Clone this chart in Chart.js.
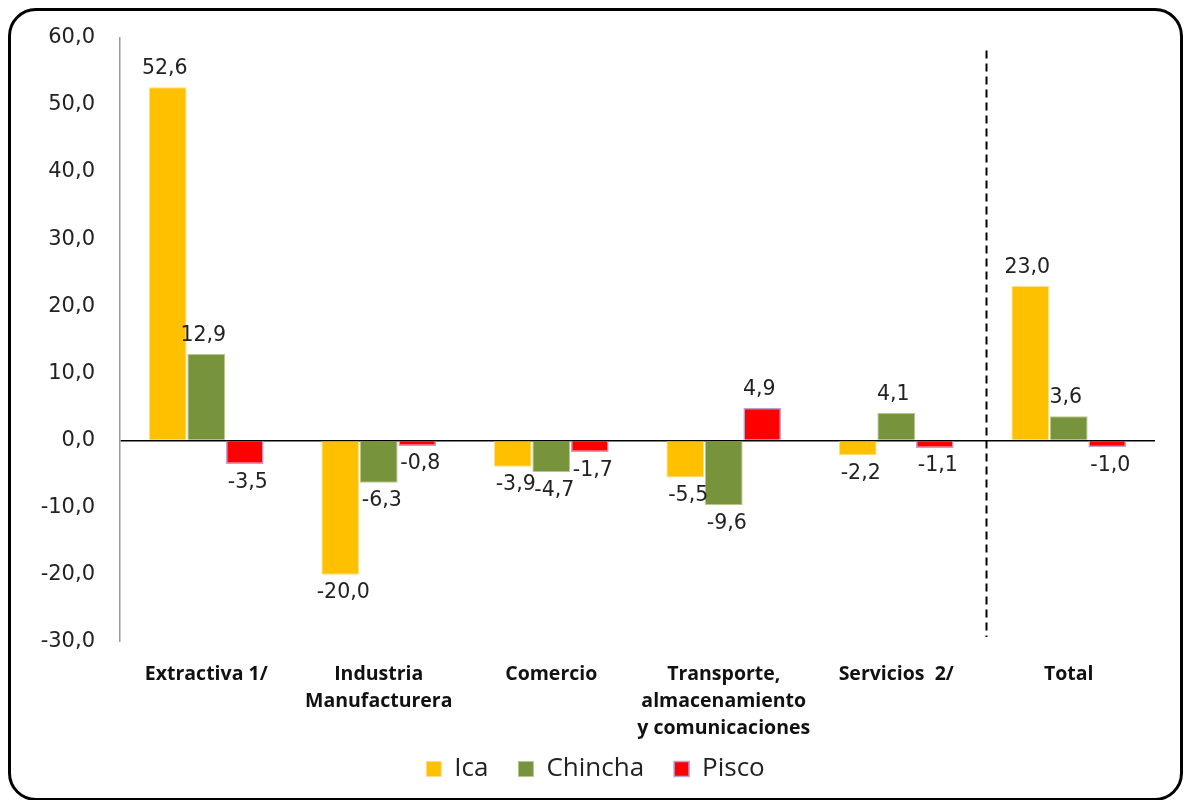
<!DOCTYPE html>
<html>
<head>
<meta charset="utf-8">
<script src="https://cdn.jsdelivr.net/npm/chart.js@4.4.1/dist/chart.umd.min.js"></script>
<style>
  html, body { margin: 0; padding: 0; background: #fff; }
  #wrap { position: relative; width: 1184px; height: 800px; }
  #frame { position: absolute; left: 8px; top: 8px; width: 1169px; height: 787px;
           border: 3px solid #000; border-radius: 28px; pointer-events: none; }
  canvas { position: absolute; left: 0; top: 0; }
</style>
</head>
<body>
<div id="wrap">
  <canvas id="c" width="1184" height="800"></canvas>
  <div id="frame"></div>
</div>
<script>
const categories = [
  ['Extractiva 1/'],
  ['Industria', 'Manufacturera'],
  ['Comercio'],
  ['Transporte,', 'almacenamiento', 'y comunicaciones'],
  ['Servicios  2/'],
  ['Total']
];
const seriesNames = ['Ica', 'Chincha', 'Pisco'];
const icaValues = [52.6, -20.0, -3.9, -5.5, -2.2, 23.0];
const chinchaValues = [12.9, -6.3, -4.7, -9.6, 4.1, 3.6];
const piscoValues = [-3.5, -0.8, -1.7, 4.9, -1.1, -1.0];
const yTicks = [-30, -20, -10, 0, 10, 20, 30, 40, 50, 60];

const fmt = v => v.toFixed(1).replace('.', ',');

const labelPlugin = {
  id: 'valueLabels',
  afterDatasetsDraw(chart) {
    const ctx = chart.ctx;
    ctx.save();
    ctx.font = '20.5px "DejaVu Sans"';
    ctx.fillStyle = '#222';
    ctx.textAlign = 'center';
    chart.data.datasets.forEach((ds, i) => {
      const meta = chart.getDatasetMeta(i);
      meta.data.forEach((bar, j) => {
        const v = ds.data[j];
        if (v >= 0) {
          ctx.textBaseline = 'bottom';
          ctx.fillText(fmt(v), bar.x - 3, bar.y - 8);
        } else {
          ctx.textBaseline = 'top';
          ctx.fillText(fmt(v), bar.x + 3, bar.y + 8);
        }
      });
    });
    ctx.restore();
  }
};

const categoryLabelPlugin = {
  id: 'categoryLabels',
  afterDraw(chart) {
    const xs = chart.scales.x;
    const ca = chart.chartArea;
    const ctx = chart.ctx;
    ctx.save();
    ctx.font = 'bold 19.5px "Open Sans"';
    ctx.fillStyle = '#111';
    ctx.textAlign = 'center';
    ctx.textBaseline = 'alphabetic';
    chart.data.labels.forEach((lines, i) => {
      const x = xs.getPixelForValue(i);
      lines.forEach((t, k) => ctx.fillText(t, x, ca.bottom + 38 + k * 27));
    });
    ctx.restore();
  }
};

const dividerPlugin = {
  id: 'divider',
  afterDatasetsDraw(chart) {
    const xs = chart.scales.x;
    const ca = chart.chartArea;
    const x = (xs.getPixelForValue(4) + xs.getPixelForValue(5)) / 2 + 4;
    const ctx = chart.ctx;
    ctx.save();
    ctx.strokeStyle = '#000';
    ctx.lineWidth = 2;
    ctx.setLineDash([8, 5]);
    ctx.beginPath();
    ctx.moveTo(x, ca.top + 13);
    ctx.lineTo(x, ca.bottom - 5);
    ctx.stroke();
    ctx.restore();
  }
};

new Chart(document.getElementById('c'), {
  type: 'bar',
  data: {
    labels: categories,
    datasets: [
      { label: seriesNames[0], data: icaValues, backgroundColor: '#FFC000', borderColor: '#FFE08A', borderWidth: 1 },
      { label: seriesNames[1], data: chinchaValues, backgroundColor: '#77933C', borderColor: '#B5C98F', borderWidth: 1 },
      { label: seriesNames[2], data: piscoValues, backgroundColor: '#FF0000', borderColor: '#B9A3D3', borderWidth: 1.5 }
    ]
  },
  options: {
    responsive: false,
    animation: false,
    devicePixelRatio: 1,
    layout: { padding: { top: 37, right: 29, left: 36, bottom: 8 } },
    datasets: { bar: { categoryPercentage: 0.67, barPercentage: 0.98 } },
    plugins: {
      tooltip: { enabled: false },
      legend: {
        position: 'bottom',
        labels: {
          boxWidth: 15, boxHeight: 15, padding: 30,
          color: '#222',
          font: { family: '"Open Sans"', size: 26 }
        }
      }
    },
    scales: {
      x: {
        grid: { display: false, drawTicks: false },
        border: { display: false },
        ticks: { display: false },
        afterFit(scale) { scale.height = 84; }
      },
      y: {
        min: -30, max: 60,
        afterBuildTicks(scale) { scale.ticks = yTicks.map(v => ({ value: v })); },
        grid: {
          drawTicks: false,
          color: ctx => (ctx.tick && ctx.tick.value === 0) ? '#000' : 'rgba(0,0,0,0)',
          lineWidth: ctx => (ctx.tick && ctx.tick.value === 0) ? 1.5 : 0
        },
        border: { display: true, color: '#9a9a9a', width: 1.5 },
        ticks: {
          color: '#222',
          padding: 25,
          font: { family: '"DejaVu Sans"', size: 21 },
          callback: v => fmt(v)
        },
        afterFit(scale) { scale.width = 84; }
      }
    }
  },
  plugins: [labelPlugin, categoryLabelPlugin, dividerPlugin]
});
</script>
</body>
</html>
